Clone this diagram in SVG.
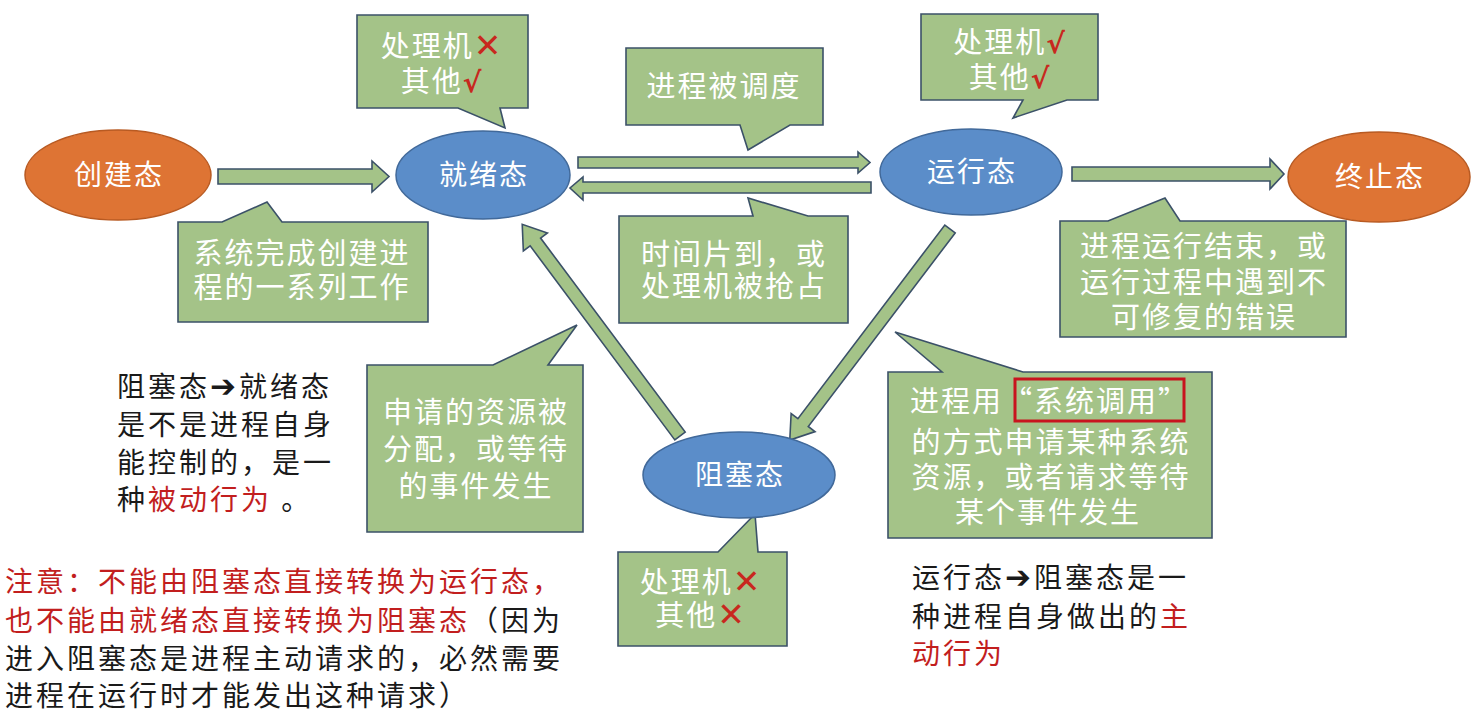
<svg xmlns="http://www.w3.org/2000/svg" width="1480" height="712" viewBox="0 0 1480 712">
<style>
.bub{fill:#A4C388;stroke:#3B5168;stroke-width:1.6}
.arr{fill:#A4C388;stroke:#3B5168;stroke-width:1.6;stroke-linejoin:miter}
.blue{fill:#5B8DC9;stroke:#41699A;stroke-width:1.5}
.orange{fill:#DE7434;stroke:#B85A22;stroke-width:1.5}
.w{fill:#fff;font-family:"Noto Sans CJK SC","Noto Sans CJK JP",sans-serif;font-size:29px;letter-spacing:2px}
.wc{text-anchor:middle}
.st{fill:#fff;font-family:"Noto Sans CJK SC",sans-serif;font-size:28px;letter-spacing:2px;text-anchor:middle}
.b{fill:#1a1a1a;font-family:"Noto Sans CJK SC","Noto Sans CJK JP",sans-serif;font-size:28px;letter-spacing:3px}
.r{fill:#C21E1E}
.x{fill:#C8281E;font-family:"DejaVu Sans",sans-serif;font-size:33px}
.v{fill:#C8281E;font-family:"DejaVu Sans",sans-serif;font-weight:bold;font-size:28px}
.ar{font-family:"DejaVu Sans",sans-serif;font-weight:bold;font-size:31px}
</style>
<rect width="1480" height="712" fill="#fff"/>

<g id="connectors">
  <polygon class="arr" points="218,169 372,169 372,161 389,176.5 372,192 372,184 218,184"/>
  <polygon class="arr" points="578,157 858,157 858,152 870,162.5 858,173 858,168 578,168"/>
  <polygon class="arr" points="871,182 583,182 583,177 570,188 583,200 583,193 871,193"/>
  <polygon class="arr" points="1072,167 1270,167 1270,159 1284,174 1270,189 1270,181 1072,181"/>
  <polygon class="arr" transform="translate(680,436) rotate(-126.7)" points="0,-6.5 242,-6.5 242,-15 264,0 242,15 242,6.5 0,6.5"/>
  <polygon class="arr" transform="translate(950,229) rotate(127.2)" points="0,-6.5 243,-6.5 243,-15 265,0 243,15 243,6.5 0,6.5"/>
</g>

<g id="callout-ready-cond">
  <path class="bub" d="M357,15 H528 V108 H500 L505,128 L458,108 H357 Z"/>
  <text class="w wc" x="442" y="57">处理机<tspan class="x">✕</tspan></text>
  <text class="w wc" x="442" y="92">其他<tspan class="v">√</tspan></text>
</g>
<g id="callout-dispatch">
  <path class="bub" d="M626,48 H823 V125 H790 L748,150 L740,125 H626 Z"/>
  <text class="w wc" x="724" y="97">进程被调度</text>
</g>
<g id="callout-run-cond">
  <path class="bub" d="M921,14 H1098 V100 H1067 L1013,118 L1023,100 H921 Z"/>
  <text class="w wc" x="1010" y="53">处理机<tspan class="v">√</tspan></text>
  <text class="w wc" x="1010" y="88">其他<tspan class="v">√</tspan></text>
</g>
<g id="callout-create">
  <path class="bub" d="M178,222 H222 L267,202 L282,222 H428 V322 H178 Z"/>
  <text class="w wc" x="302" y="264">系统完成创建进</text>
  <text class="w wc" x="302" y="298">程的一系列工作</text>
</g>
<g id="callout-timeslice">
  <path class="bub" d="M619,216 H753 L748,198 L808,216 H848 V323 H619 Z"/>
  <text class="w wc" x="734" y="265">时间片到，或</text>
  <text class="w wc" x="734" y="297">处理机被抢占</text>
</g>
<g id="callout-terminate">
  <path class="bub" d="M1060,221 H1108 L1165,198 L1180,221 H1346 V337 H1060 Z"/>
  <text class="w wc" x="1204" y="257">进程运行结束，或</text>
  <text class="w wc" x="1204" y="293">运行过程中遇到不</text>
  <text class="w wc" x="1204" y="328">可修复的错误</text>
</g>
<g id="callout-wakeup">
  <path class="bub" d="M367,365 H493 L577,325 L548,365 H583 V532 H367 Z"/>
  <text class="w wc" x="476" y="423">申请的资源被</text>
  <text class="w wc" x="476" y="460">分配，或等待</text>
  <text class="w wc" x="476" y="497">的事件发生</text>
</g>
<g id="callout-block">
  <path class="bub" d="M888,372 H942 L895,332 L1023,372 H1212 V538 H888 Z"/>
  <text class="w" x="910" y="412">进程用“系统调用”</text>
  <rect x="1015" y="379" width="169" height="42" fill="none" stroke="#C8141E" stroke-width="3"/>
  <text class="w wc" x="1051" y="453">的方式申请某种系统</text>
  <text class="w wc" x="1051" y="488">资源，或者请求等待</text>
  <text class="w wc" x="1048" y="523">某个事件发生</text>
</g>
<g id="callout-blocked-cond">
  <path class="bub" d="M618,552 H718 L755,514 L758,552 H787 V646 H618 Z"/>
  <text class="w wc" x="701" y="593">处理机<tspan class="x">✕</tspan></text>
  <text class="w wc" x="701" y="626">其他<tspan class="x">✕</tspan></text>
</g>

<g id="node-create">
  <ellipse class="orange" cx="118" cy="175" rx="93" ry="45"/>
  <text class="st" x="119" y="185">创建态</text>
</g>
<g id="node-ready">
  <ellipse class="blue" cx="483" cy="175" rx="87" ry="44"/>
  <text class="st" x="484" y="185">就绪态</text>
</g>
<g id="node-running">
  <ellipse class="blue" cx="971" cy="172" rx="91" ry="43"/>
  <text class="st" x="972" y="182">运行态</text>
</g>
<g id="node-terminated">
  <ellipse class="orange" cx="1379" cy="177" rx="91" ry="45"/>
  <text class="st" x="1380" y="187">终止态</text>
</g>
<g id="node-blocked">
  <ellipse class="blue" cx="739" cy="475" rx="96" ry="43"/>
  <text class="st" x="740" y="485">阻塞态</text>
</g>

<g id="note-left">
  <text class="b" x="117" y="397">阻塞态<tspan class="ar">➔</tspan>就绪态</text>
  <text class="b" x="117" y="435">是不是进程自身</text>
  <text class="b" x="117" y="473">能控制的，是一</text>
  <text class="b" x="117" y="510">种<tspan class="r">被动行为</tspan> 。</text>
</g>
<g id="note-bottom-left">
  <text class="b r" x="5" y="592">注意：不能由阻塞态直接转换为运行态，</text>
  <text class="b" x="5" y="631"><tspan class="r">也不能由就绪态直接转换为阻塞态</tspan>（因为</text>
  <text class="b" x="5" y="669">进入阻塞态是进程主动请求的，必然需要</text>
  <text class="b" x="5" y="706">进程在运行时才能发出这种请求）</text>
</g>
<g id="note-bottom-right">
  <text class="b" x="912" y="588">运行态<tspan class="ar">➔</tspan>阻塞态是一</text>
  <text class="b" x="912" y="627">种进程自身做出的<tspan class="r">主</tspan></text>
  <text class="b r" x="912" y="664">动行为</text>
</g>
</svg>
